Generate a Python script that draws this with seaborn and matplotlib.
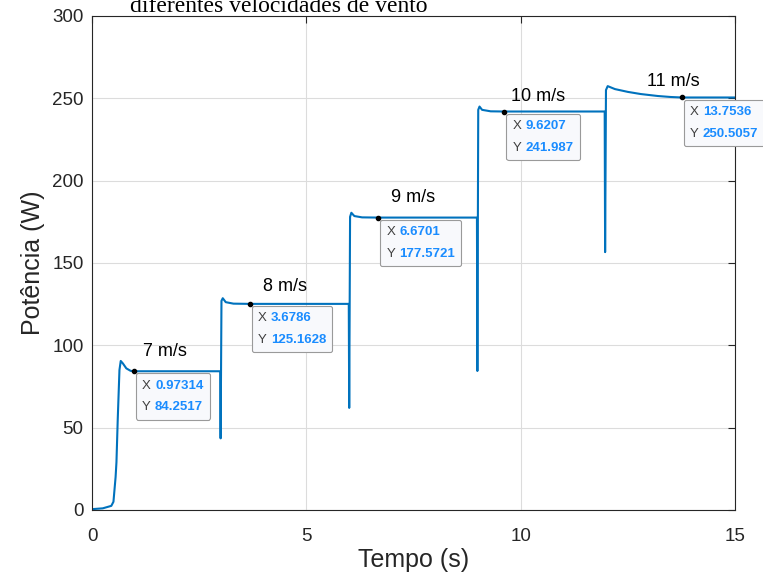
import numpy as np
import pandas as pd
import matplotlib
matplotlib.use("Agg")
import matplotlib.pyplot as plt
import seaborn as sns
from matplotlib.offsetbox import TextArea, HPacker, VPacker, AnnotationBbox

# curve breakpoints
tempo = [0.0, 0.25, 0.45, 0.50, 0.55, 0.57, 0.60, 0.64, 0.67, 0.72, 0.80, 0.90,
         0.97314, 2.99,
         3.00, 3.02, 3.05, 3.12, 3.30, 3.6786, 5.99,
         6.00, 6.02, 6.05, 6.12, 6.30, 6.6701, 8.98,
         8.99, 9.01, 9.04, 9.10, 9.30, 9.6207, 11.96,
         11.97, 11.99, 12.03, 12.20, 12.50, 12.80, 13.20, 13.50, 13.7536, 15.0]
potencia = [0.5, 1.0, 2.5, 5.0, 20.0, 29.0, 55.0, 85.0, 90.5, 89.0, 86.0, 84.5,
            84.2517, 84.25,
            43.5, 127.0, 128.6, 126.2, 125.3, 125.1628, 125.16,
            62.0, 178.0, 180.5, 178.5, 177.7, 177.5721, 177.57,
            84.4, 243.0, 245.0, 243.0, 242.1, 241.987, 241.99,
            156.6, 255.0, 257.4, 255.6, 253.9, 252.6, 251.4, 250.8, 250.5057, 250.5]

# wind speed labels
vel_labels = ["7 m/s", "8 m/s", "9 m/s", "10 m/s", "11 m/s"]
vel_x = [1.7, 4.5, 7.5, 10.4, 13.55]
vel_y = [96, 136, 189.5, 251, 260]

# data tips
tip_x = [0.97314, 3.6786, 6.6701, 9.6207, 13.7536]
tip_y = [84.2517, 125.1628, 177.5721, 241.987, 250.5057]
tip_x_txt = ["0.97314", "3.6786", "6.6701", "9.6207", "13.7536"]
tip_y_txt = ["84.2517", "125.1628", "177.5721", "241.987", "250.5057"]

df = pd.DataFrame({"Tempo": tempo, "Potencia": potencia})

sns.set_style("white")
plt.rcParams["font.family"] = ["Liberation Sans", "DejaVu Sans"]

fig = plt.figure(figsize=(7.63, 5.79), dpi=100)
ax = fig.add_axes([0.1206, 0.1192, 0.8427, 0.8532])

sns.lineplot(data=df, x="Tempo", y="Potencia", ax=ax, color="#0072BD",
             linewidth=1.5, estimator=None, sort=False)

ax.set_xlim(0, 15)
ax.set_ylim(0, 300)
ax.set_xticks([0, 5, 10, 15])
ax.set_yticks(np.arange(0, 301, 50))
ax.grid(True, color="#DCDCDC", linewidth=0.8)
ax.tick_params(direction="in", top=True, right=True, length=5, width=0.8,
               labelsize=13.5, colors="#262626")
ax.tick_params(axis="x", pad=13)
ax.tick_params(axis="y", pad=6)
for s in ax.spines.values():
    s.set_color("#262626")
    s.set_linewidth(0.8)

ax.set_xlabel("Tempo (s)", fontsize=18, color="#262626", labelpad=2)
ax.set_ylabel("Potência (W)", fontsize=18, color="#262626", labelpad=5)

for lab, x, y in zip(vel_labels, vel_x, vel_y):
    ax.text(x, y, lab, fontsize=13, ha="center", va="center", color="black")

# datatips
for x, y, xs, ys in zip(tip_x, tip_y, tip_x_txt, tip_y_txt):
    rows = []
    for k, v in (("X", xs), ("Y", ys)):
        rows.append(HPacker(children=[
            TextArea(k, textprops=dict(color="#404040", fontsize=9.5)),
            TextArea(v, textprops=dict(color="#1A8CFF", fontsize=9.5,
                                       fontweight="bold")),
        ], pad=0, sep=3, align="baseline"))
    box = VPacker(children=rows, pad=0, sep=7, align="left")
    ab = AnnotationBbox(box, (x, y), xybox=(6, -6), xycoords="data",
                        boxcoords="offset points", box_alignment=(0, 1),
                        frameon=True, pad=0.35, annotation_clip=False,
                        bboxprops=dict(facecolor="#F8F9FC", edgecolor="#9A9A9A",
                                       boxstyle="round,pad=0.45,rounding_size=0.15",
                                       linewidth=0.8))
    ab.set_zorder(6)
    ax.add_artist(ab)
ax.scatter(tip_x, tip_y, s=9, color="black", zorder=7)

# cut-off caption above the chart
fig.text(0.170, 0.979, "diferentes velocidades de vento", fontsize=17,
         family="Liberation Serif", ha="left", va="baseline", color="black")

fig.savefig("out.png", dpi=100)
